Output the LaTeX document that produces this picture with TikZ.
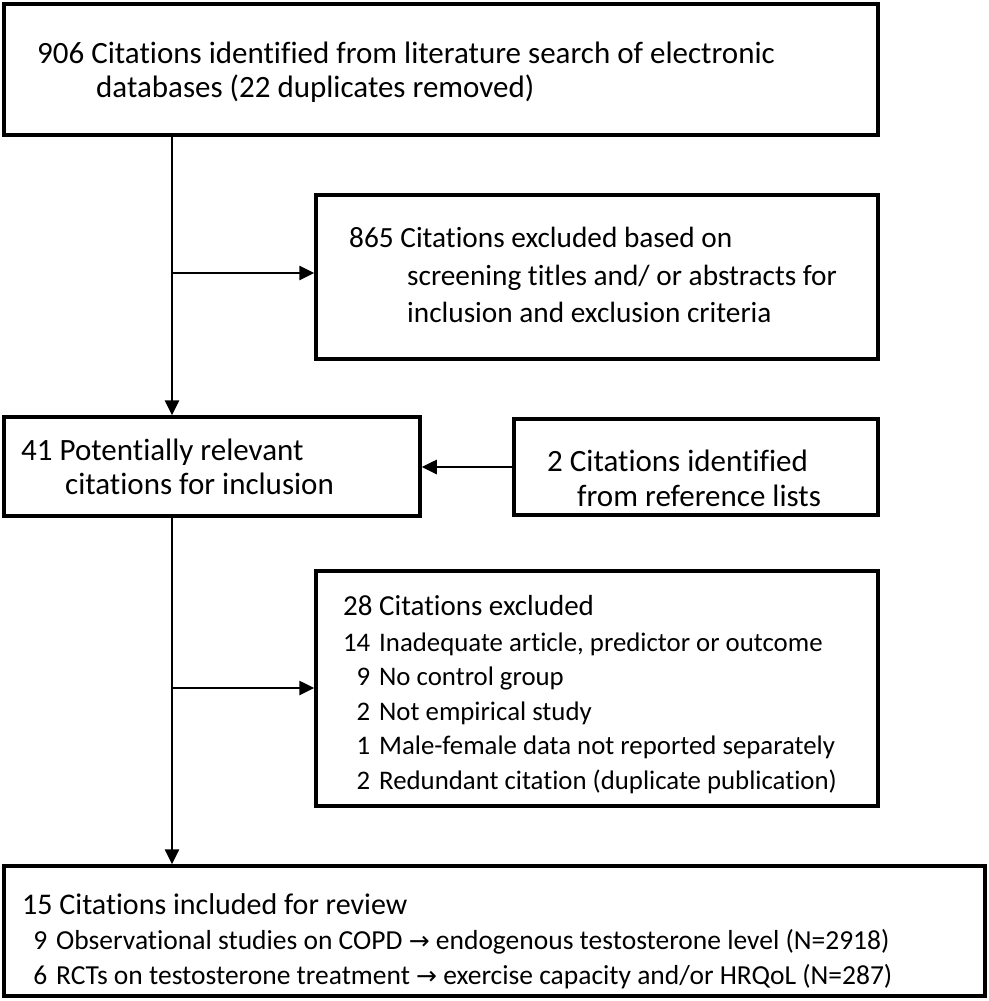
\documentclass[tikz,border=0pt]{standalone}
\usepackage{fontspec}
\setmainfont{Carlito}[Ligatures=CommonOff]
\newfontfamily\symf{DejaVu Sans}
\usetikzlibrary{arrows.meta}
\newcommand\numcol[2]{\makebox[#1][r]{#2}}
\newcommand\rarr{{\symf\fontsize{25}{25}\selectfont →}}
\begin{document}
\begin{tikzpicture}[x=1pt,y=-1pt,
  box/.style={draw=black,line width=3.5pt,rectangle,inner sep=0pt},
  conn/.style={draw=black,line width=2.6pt,-{Triangle[length=15pt,width=14pt]}},
  txt/.style={anchor=base west,inner sep=0pt},
  fa/.style={font=\fontsize{31}{34}\selectfont},
  fb/.style={font=\fontsize{29.3}{34}\selectfont},
  fc/.style={font=\fontsize{31}{34}\selectfont},
  fh/.style={font=\fontsize{29}{34}\selectfont},
  fd/.style={font=\fontsize{26.8}{34}\selectfont},
  fe/.style={font=\fontsize{27.5}{34}\selectfont}]
\useasboundingbox (0,0) rectangle (988,1001);
% boxes
\node[box,minimum width=874pt,minimum height=131pt] (top) at (441,69.5) {};
\node[box,minimum width=562pt,minimum height=164pt] (b865) at (597,277) {};
\node[box,minimum width=416pt,minimum height=99pt] (b41) at (212,466.5) {};
\node[box,minimum width=364pt,minimum height=96pt] (b2) at (696,467) {};
\node[box,minimum width=562pt,minimum height=235pt] (b28) at (597,688.5) {};
\node[box,minimum width=981pt,minimum height=130pt] (bot) at (494.5,931) {};
% texts
\node[txt,fa] (t1a) at (37,63) {906 Citations identified from literature search of electronic};
\node[txt,fa] (t1b) at (96,97) {databases (22 duplicates removed)};
\node[txt,fb] (t2a) at (349,247) {865 Citations excluded based on};
\node[txt,fb] (t2b) at (407,285) {screening titles and/ or abstracts for};
\node[txt,fb] (t2c) at (407,322) {inclusion and exclusion criteria};
\node[txt,fc] (t3a) at (21,460) {41 Potentially relevant};
\node[txt,fc] (t3b) at (65,494) {citations for inclusion};
\node[txt,fc] (t4a) at (547,471) {2 Citations identified};
\node[txt,fc] (t4b) at (577,506) {from reference lists};
\node[txt,fh] (t5a) at (343,615) {28 Citations excluded};
\node[txt,fd] (t5b) at (343,651) {\numcol{27pt}{14}\hspace{9pt}Inadequate article, predictor or outcome};
\node[txt,fd] (t5c) at (343,685) {\numcol{27pt}{9}\hspace{9pt}No control group};
\node[txt,fd] (t5d) at (343,720) {\numcol{27pt}{2}\hspace{9pt}Not empirical study};
\node[txt,fd] (t5e) at (343,754) {\numcol{27pt}{1}\hspace{9pt}Male-female data not reported separately};
\node[txt,fd] (t5f) at (343,789) {\numcol{27pt}{2}\hspace{9pt}Redundant citation (duplicate publication)};
\node[txt,fh] (t6a) at (22,914) {\fontsize{30}{34}\selectfont 15 Citations included for review};
\node[txt,fe] (t6b) at (33,949) {\numcol{14pt}{9}\hspace{9pt}Observational studies on COPD \rarr{} endogenous testosterone level (N=2918)};
\node[txt,fe] (t6c) at (33,984) {\numcol{14pt}{6}\hspace{9pt}RCTs on testosterone treatment \rarr{} exercise capacity and/or HRQoL (N=287)};
% connectors
\coordinate (j1) at (172,273);
\coordinate (j2) at (172,688);
\draw[conn] (top.south -| j1) -- (b41.north -| j1);
\draw[conn] (j1) -- (j1 -| b865.west);
\draw[conn] (b2.west) -- (b2.west -| b41.east);
\draw[conn] (b41.south -| j2) -- (bot.north -| j2);
\draw[conn] (j2) -- (j2 -| b28.west);
\end{tikzpicture}
\end{document}
